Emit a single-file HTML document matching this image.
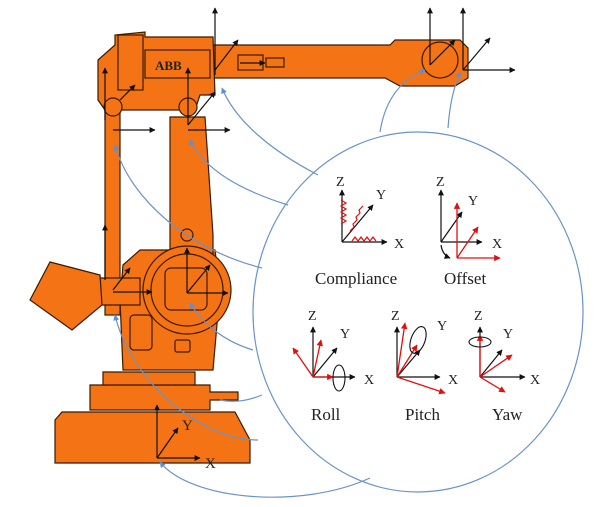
<!DOCTYPE html>
<html><head><meta charset="utf-8"><style>
html,body{margin:0;padding:0;background:#fff;}
svg{display:block;}
text{font-family:"Liberation Serif",serif;fill:#222;}
</style></head><body>
<svg width="612" height="507" viewBox="0 0 612 507" xmlns="http://www.w3.org/2000/svg">
<defs>
<marker id="a" viewBox="0 0 10 10" refX="9" refY="5" markerWidth="5" markerHeight="5" orient="auto"><path d="M0,0L10,5L0,10z" fill="#111"/></marker>
<marker id="r" viewBox="0 0 10 10" refX="9" refY="5" markerWidth="5" markerHeight="5" orient="auto"><path d="M0,0L10,5L0,10z" fill="#e01010"/></marker>
<marker id="b" viewBox="0 0 10 10" refX="9" refY="5" markerWidth="5" markerHeight="5" orient="auto"><path d="M0,0L10,5L0,10z" fill="#5b8fd6"/></marker>
</defs>
<g fill="#f47314" stroke="#3a1a00" stroke-width="1.2">
<!-- base -->
<path d="M55,420 L62,412 L235,412 L250,440 L250,463 L55,463 Z"/>
<path d="M90,385 L210,385 L210,392 L238,392 L238,400 L210,400 L210,410 L90,410 Z"/>
<path d="M103,372 L195,372 L195,385 L103,385 Z"/>
<!-- body -->
<path d="M123,265 L140,250 L215,250 L220,290 L213,370 L123,370 L120,300 Z"/>
<rect x="130" y="315" width="22" height="35" rx="4"/>
<rect x="175" y="340" width="15" height="12" rx="2"/>
<!-- main arm -->
<path d="M170,117 L205,117 L213,235 L213,260 L170,260 Z"/>
<!-- left rod -->
<rect x="105" y="110" width="15" height="205"/>
<!-- counterweight link -->
<path d="M95,278 L140,278 L140,305 L95,305 Z"/>
<path d="M30,300 L50,262 L100,275 L102,305 L72,330 Z"/>
<!-- joint circles -->
<circle cx="187" cy="290" r="44"/>
<circle cx="187" cy="290" r="36" fill="none"/>
<rect x="165" y="268" width="42" height="42" rx="6"/>
<circle cx="187" cy="235" r="6"/>
<!-- upper forearm -->
<path d="M213,45 L390,45 L395,40 L460,40 L468,48 L468,78 L455,86 L400,86 L385,78 L213,78 Z"/>
<circle cx="440" cy="60" r="18"/>
<rect x="238" y="55" width="25" height="15" fill="none"/>
<rect x="266" y="58" width="18" height="9" fill="none"/>
<!-- top bracket -->
<path d="M98,60 L115,45 L115,35 L145,32 L145,37 L213,37 L215,95 L200,95 L195,110 L105,110 L98,100 Z"/>
<rect x="145" y="50" width="65" height="28" fill="none"/>
<rect x="118" y="35" width="25" height="55" fill="none"/>
<circle cx="113" cy="107" r="9"/>
<circle cx="188" cy="107" r="9"/>
</g>
<text x="155" y="70" font-family="Liberation Sans" font-weight="bold" font-size="13" fill="#222">ABB</text>
<!-- robot axes -->
<g stroke="#111" stroke-width="1.2" fill="none" marker-end="url(#a)">
<path d="M215,75 V8"/><path d="M215,70 L238,40"/><path d="M240,63 H265"/>
<path d="M430,65 V8"/><path d="M430,65 L455,40"/><path d="M463,70 V8"/><path d="M463,70 L490,38"/><path d="M463,70 H515"/>
<path d="M105,120 V68"/><path d="M113,130 H155"/><path d="M188,130 H230"/><path d="M188,125 V68"/><path d="M188,125 L215,92"/><path d="M120,100 L135,85"/>
<path d="M105,280 V225"/><path d="M113,292 H152"/><path d="M113,290 L130,268"/>
<path d="M187,293 V248"/><path d="M187,293 H228"/><path d="M187,293 L210,265"/>
<path d="M157,458 V405"/><path d="M157,458 L178,428"/><path d="M157,458 H200"/>
</g>
<text x="182" y="430" font-size="15">Y</text>
<text x="205" y="468" font-size="15">X</text>
<!-- ellipse -->
<ellipse cx="418" cy="312" rx="165" ry="180" fill="none" stroke="#6a93c8" stroke-width="1.2"/>
<!-- blue connectors -->
<g stroke="#6a93c8" stroke-width="1.2" fill="none" marker-end="url(#b)">
<path d="M318,175 C270,150 235,120 222,88"/>
<path d="M288,205 C240,190 205,170 190,140"/>
<path d="M262,268 C190,250 130,200 115,145"/>
<path d="M253,350 C220,340 200,320 190,303"/>
<path d="M258,440 C200,440 130,380 115,315"/>
<path d="M370,478 C300,510 190,500 160,462"/>
<path d="M380,132 C385,100 400,80 425,70"/>
<path d="M448,128 C450,100 455,85 460,72"/>
</g>
<g stroke="#6a93c8" stroke-width="1.2" fill="none">
<path d="M220,400 C235,403 250,400 262,395"/>
</g>
<!-- compliance -->
<g stroke="#111" stroke-width="1.2" fill="none" marker-end="url(#a)">
<path d="M342,242 V190"/><path d="M342,242 L373,205"/><path d="M342,242 H387"/>
<path d="M441,242 V190"/><path d="M441,242 L462,212"/><path d="M441,242 H482"/><path d="M441,245 C442,252 445,256 450,258"/>
<path d="M313,377 V327"/><path d="M313,377 L337,348"/><path d="M313,377 H355"/>
<path d="M397,377 V327"/><path d="M397,377 L420,350"/><path d="M397,377 H440"/>
<path d="M480,377 V327"/><path d="M480,377 L502,350"/><path d="M480,377 H525"/>
</g>
<g stroke="#e01010" stroke-width="1.2" fill="none">
<path d="M341,200 l5,3 -5,3 5,3 -5,3 5,3 -5,3 5,3 -5,3" />
<path d="M350,231 l4,-4 -1,-3 4,-4 -1,-3 4,-4 -1,-3 4,-4"/>
<path d="M352,241 l3,-4 3,4 3,-4 3,4 3,-4 3,4 3,-4 3,4"/>
</g>
<g stroke="#e01010" stroke-width="1.3" fill="none" marker-end="url(#r)">
<path d="M457,258 V203"/><path d="M457,258 L478,227"/><path d="M457,258 H500"/>
<path d="M313,377 L293,348"/><path d="M313,377 L321,340"/><path d="M313,377 H333"/>
<path d="M397,377 L405,323"/><path d="M397,377 L417,345"/><path d="M397,377 L445,393"/>
<path d="M480,377 V335"/><path d="M480,377 L512,355"/><path d="M480,377 L505,392"/>
</g>
<g stroke="#111" stroke-width="1.1" fill="none">
<ellipse cx="339" cy="378" rx="6" ry="13"/>
<ellipse cx="418" cy="340" rx="7" ry="14" transform="rotate(20 418 340)"/>
<ellipse cx="480" cy="342" rx="11" ry="5"/>
</g>
<g font-size="14">
<text x="336" y="186">Z</text><text x="376" y="199">Y</text><text x="394" y="248">X</text>
<text x="436" y="186">Z</text><text x="468" y="205">Y</text><text x="492" y="248">X</text>
<text x="308" y="320">Z</text><text x="340" y="338">Y</text><text x="364" y="384">X</text>
<text x="391" y="320">Z</text><text x="437" y="330">Y</text><text x="448" y="384">X</text>
<text x="474" y="320">Z</text><text x="503" y="338">Y</text><text x="530" y="384">X</text>
</g>
<g font-size="17">
<text x="315" y="284">Compliance</text>
<text x="444" y="284">Offset</text>
<text x="311" y="420">Roll</text>
<text x="405" y="420">Pitch</text>
<text x="492" y="420">Yaw</text>
</g>
</svg>
</body></html>
